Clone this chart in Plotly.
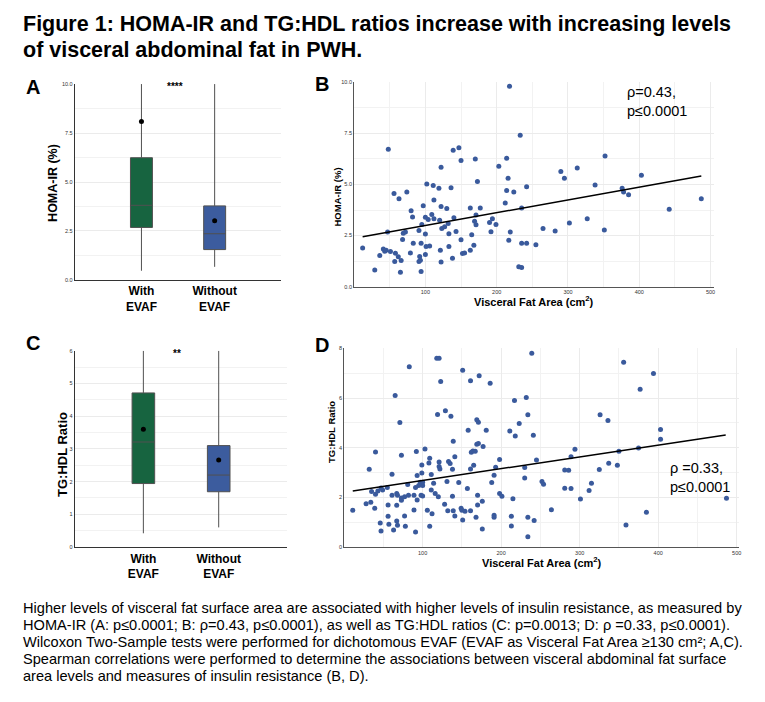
import plotly.graph_objects as go

# Panel A / C: box statistics per group
groups = ["With EVAF", "Without EVAF"]
group_labels = ["With<br>EVAF", "Without<br>EVAF"]
box_colors = ["#176440", "#3c5c9e"]

homa_q1 = [2.68, 1.55]
homa_median = [3.81, 2.36]
homa_q3 = [6.24, 3.78]
homa_lower = [0.47, 0.67]
homa_upper = [10.0, 10.0]
homa_mean = [8.09, 3.02]

tghdl_q1 = [1.94, 1.69]
tghdl_median = [3.21, 2.20]
tghdl_q3 = [4.71, 3.10]
tghdl_lower = [0.42, 0.60]
tghdl_upper = [6.0, 6.0]
tghdl_mean = [3.60, 2.66]

# Panel B: visceral fat area vs HOMA-IR
vfa_b = [12, 29, 36, 41, 43, 45, 51, 48, 47, 56, 58, 57, 62, 63, 66, 65, 68, 69, 72, 74,
         79, 80, 82, 83, 91, 91, 92, 93, 94, 94, 95, 97, 100, 100, 100, 101, 102, 104, 106, 109,
         111, 112, 112, 119, 120, 121, 122, 122, 122, 123, 127, 130, 132, 133, 133, 136, 138, 139, 140, 143,
         147, 150, 150, 152, 155, 163, 163, 165, 168, 169, 170, 171, 171, 173, 177, 190, 192, 194, 199, 203,
         212, 214, 214, 216, 217, 218, 219, 224, 231, 233, 235, 235, 235, 242, 242, 255, 265, 282, 290, 295,
         302, 313, 327, 338, 351, 352, 376, 378, 385, 403, 442, 487]
homa_b = [1.89, 0.81, 1.52, 1.84, 1.73, 1.78, 1.72, 6.72, 2.67, 4.56, 1.63, 1.23, 1.46, 4.30, 1.28, 0.70, 2.31, 2.61, 2.67, 4.63,
          1.65, 3.71, 3.41, 2.12, 2.75, 1.23, 1.47, 1.29, 2.12, 0.74, 3.04, 3.96, 2.57, 1.57, 3.40, 1.96, 5.02, 3.28, 1.99, 3.53,
          4.95, 4.24, 3.32, 4.81, 3.25, 1.78, 1.20, 5.84, 3.92, 2.85, 2.93, 3.82, 3.09, 1.96, 2.59, 4.84, 1.39, 6.68, 3.37, 2.70,
          6.80, 6.18, 2.30, 1.62, 1.65, 3.85, 1.78, 2.54, 2.02, 3.20, 6.25, 3.03, 3.50, 5.15, 3.85, 3.14, 2.69, 3.32, 3.04, 5.89,
          4.09, 6.28, 4.71, 5.31, 2.27, 9.81, 2.67, 4.63, 0.97, 7.41, 2.12, 0.94, 3.85, 2.12, 4.89, 2.05, 2.85, 2.72, 5.63, 5.31,
          3.12, 5.81, 3.32, 4.97, 2.77, 6.39, 4.82, 4.63, 4.50, 5.45, 3.79, 4.30]
fit_b_x = [12, 487]
fit_b_y = [2.44, 5.42]

# Panel D: visceral fat area vs TG:HDL ratio
vfa_d = [11, 28, 32, 34, 35, 39, 40, 40, 43, 46, 47, 47, 49, 55, 56, 56, 57, 61, 61, 63,
         65, 67, 67, 67, 68, 68, 71, 73, 73, 73, 77, 78, 77, 82, 81, 83, 89, 89, 91, 91,
         92, 93, 93, 95, 97, 98, 99, 99, 100, 100, 100, 103, 106, 108, 109, 109, 111, 111, 112, 114,
         116, 118, 119, 120, 121, 121, 121, 123, 122, 128, 129, 131, 132, 133, 135, 136, 138, 138, 139, 139,
         141, 141, 146, 149, 150, 151, 151, 154, 157, 158, 161, 161, 161, 162, 164, 165, 167, 168, 169, 169,
         170, 170, 171, 171, 172, 176, 176, 177, 181, 186, 188, 191, 191, 191, 193, 198, 198, 201, 211, 213,
         213, 215, 217, 218, 223, 230, 230, 232, 234, 234, 234, 239, 241, 242, 245, 252, 254, 264, 281, 281,
         286, 289, 289, 294, 301, 312, 315, 325, 326, 336, 337, 348, 350, 356, 359, 375, 377, 385, 394, 403,
         403, 487]
tghdl_d = [1.48, 1.74, 3.13, 1.80, 2.24, 1.56, 2.13, 3.83, 2.26, 0.97, 0.65, 2.38, 2.30, 2.40, 1.69, 1.24, 0.92, 2.93, 2.09, 0.69,
           6.10, 2.16, 1.68, 1.05, 0.88, 2.09, 5.01, 3.70, 1.97, 1.88, 2.02, 0.84, 1.25, 2.09, 2.52, 7.26, 2.09, 1.49, 0.61, 2.40,
           3.85, 1.89, 2.88, 2.48, 2.61, 2.08, 3.30, 2.98, 2.48, 2.05, 2.61, 3.95, 1.48, 3.38, 0.84, 3.57, 2.92, 2.30, 1.34, 2.57,
           2.16, 7.60, 5.34, 2.02, 3.42, 7.60, 3.24, 6.67, 3.14, 1.72, 5.49, 2.64, 1.46, 3.44, 3.36, 5.27, 3.13, 2.04, 4.26, 1.46,
           1.25, 3.64, 2.60, 1.56, 1.48, 1.09, 7.12, 1.44, 2.36, 4.70, 1.46, 6.70, 3.14, 3.82, 3.87, 3.29, 3.86, 1.20, 5.13, 4.14,
           2.08, 1.69, 5.02, 4.17, 6.90, 1.84, 0.73, 4.05, 4.70, 6.60, 2.60, 1.28, 1.20, 2.89, 3.21, 3.52, 2.16, 2.04, 4.67, 0.85,
           1.24, 1.94, 5.90, 4.47, 4.97, 2.78, 3.20, 6.02, 1.20, 5.33, 0.41, 7.80, 4.50, 1.07, 3.50, 2.64, 2.53, 1.50, 3.10, 2.37,
           3.09, 2.36, 3.64, 3.94, 1.93, 2.28, 2.57, 3.12, 5.33, 5.10, 3.37, 3.29, 3.86, 7.44, 0.89, 3.99, 6.35, 1.40, 6.99, 4.73,
           4.34, 1.96]
fit_d_x = [11, 486]
fit_d_y = [2.26, 4.51]

caption_lines = [
    "Higher levels of visceral fat surface area are associated with higher levels of insulin resistance, as measured by",
    "HOMA-IR (A: p≤0.0001; B: ρ=0.43, p≤0.0001), as well as TG:HDL ratios (C: p=0.0013; D: ρ =0.33, p≤0.0001).",
    "Wilcoxon Two-Sample tests were performed for dichotomous EVAF (EVAF as Visceral Fat Area ≥130 cm²; A,C).",
    "Spearman correlations were performed to determine the associations between visceral abdominal fat surface",
    "area levels and measures of insulin resistance (B, D).",
]

FONT = "Liberation Sans, Arial, sans-serif"
POINT_COLOR = "#3a5a9c"
GRID = "#ebebeb"
MINOR_GRID = "#f2f2f2"

# page body adds an 8px margin, so the figure is a bit smaller and shifted
OFF = 8
W = 765 - OFF
H = 702 - OFF


def fx(px):
    return (px - OFF) / W


def fy(py):
    return 1 - (py - OFF) / H


fig = go.Figure()


def add_boxes(xaxis, yaxis, q1, median, q3, lower, upper, mean):
    for i, g in enumerate(groups):
        fig.add_trace(go.Box(
            x=[g], q1=[q1[i]], median=[median[i]], q3=[q3[i]],
            lowerfence=[lower[i]], upperfence=[upper[i]],
            fillcolor=box_colors[i], line=dict(color="#505050", width=1),
            width=0.3, whiskerwidth=0, boxpoints=False,
            xaxis=xaxis, yaxis=yaxis, showlegend=False,
        ))
    # group means as black dots
    fig.add_trace(go.Scatter(
        x=groups, y=mean, mode="markers", marker=dict(color="black", size=5),
        xaxis=xaxis, yaxis=yaxis, showlegend=False,
    ))


def add_scatter(xaxis, yaxis, xs, ys, fit_x, fit_y):
    fig.add_trace(go.Scatter(
        x=xs, y=ys, mode="markers", marker=dict(color=POINT_COLOR, size=5),
        xaxis=xaxis, yaxis=yaxis, showlegend=False,
    ))
    fig.add_trace(go.Scatter(
        x=fit_x, y=fit_y, mode="lines", line=dict(color="black", width=1.5),
        xaxis=xaxis, yaxis=yaxis, showlegend=False,
    ))


add_boxes("x", "y", homa_q1, homa_median, homa_q3, homa_lower, homa_upper, homa_mean)
add_scatter("x2", "y2", vfa_b, homa_b, fit_b_x, fit_b_y)
add_boxes("x3", "y3", tghdl_q1, tghdl_median, tghdl_q3, tghdl_lower, tghdl_upper, tghdl_mean)
add_scatter("x4", "y4", vfa_d, tghdl_d, fit_d_x, fit_d_y)

tick_small = dict(family=FONT, size=5.5, color="#333")
cat_axis = dict(
    type="category", range=[-0.91, 1.91], showgrid=False, zeroline=False,
    showline=True, linecolor="#333", linewidth=1.2, ticks="",
    tickvals=groups, ticktext=group_labels,
    tickfont=dict(family=FONT, size=12, color="black", weight="bold"),
)
num_axis = dict(
    showline=True, linecolor="#555", linewidth=1, ticks="", zeroline=False,
    gridcolor=GRID, gridwidth=1, tickfont=tick_small,
)
vfa_ticks = [100, 200, 300, 400, 500]

fig.update_layout(
    width=W, height=H,
    margin=dict(l=0, r=0, t=0, b=0),
    paper_bgcolor="white", plot_bgcolor="white",
    font=dict(family=FONT, color="black"),
    showlegend=False,
    xaxis=dict(cat_axis, domain=[fx(75), fx(282)], anchor="y"),
    yaxis=dict(num_axis, domain=[fy(279.3), fy(81.7)], anchor="x", range=[0, 10], tick0=0, dtick=2.5,
               tickformat=".1f", linecolor="#333", linewidth=1.2,
               minor=dict(tick0=0, dtick=1.25, showgrid=True, gridcolor=MINOR_GRID)),
    xaxis2=dict(num_axis, domain=[fx(355), fx(716)], anchor="y2", range=[0, 505], tickvals=vfa_ticks,
                minor=dict(tick0=0, dtick=50, showgrid=True, gridcolor=MINOR_GRID)),
    yaxis2=dict(num_axis, domain=[fy(286), fy(80)], anchor="x2", range=[0, 10], tick0=0, dtick=2.5,
                tickformat=".1f", minor=dict(tick0=0, dtick=1.25, showgrid=True, gridcolor=MINOR_GRID)),
    xaxis3=dict(cat_axis, domain=[fx(75), fx(288)], anchor="y3"),
    yaxis3=dict(num_axis, domain=[fy(548.7), fy(350.7)], anchor="x3", range=[0, 6], tick0=0, dtick=1,
                linecolor="#333", linewidth=1.2,
                minor=dict(tick0=0, dtick=0.5, showgrid=True, gridcolor=MINOR_GRID)),
    xaxis4=dict(num_axis, domain=[fx(345), fx(741)], anchor="y4", range=[0, 503], tickvals=vfa_ticks,
                minor=dict(tick0=0, dtick=50, showgrid=True, gridcolor=MINOR_GRID)),
    yaxis4=dict(num_axis, domain=[fy(548.7), fy(348.3)], anchor="x4", range=[0, 8], tick0=0, dtick=2,
                minor=dict(tick0=0, dtick=1, showgrid=True, gridcolor=MINOR_GRID)),
)

bold = dict(family=FONT, color="black", weight="bold")
notes = [
    # figure title
    dict(x=fx(21), y=fy(21), text="Figure 1: HOMA-IR and TG:HDL ratios increase with increasing levels",
         xanchor="left", font=dict(bold, size=21.5)),
    dict(x=fx(21), y=fy(47), text="of visceral abdominal fat in PWH.",
         xanchor="left", font=dict(bold, size=21.5)),
    # panel letters
    dict(x=fx(33), y=fy(85), text="A", font=dict(bold, size=20)),
    dict(x=fx(323), y=fy(82), text="B", font=dict(bold, size=20)),
    dict(x=fx(33), y=fy(343), text="C", font=dict(bold, size=20)),
    dict(x=fx(323), y=fy(345), text="D", font=dict(bold, size=20)),
    # significance stars
    dict(x=fx(175), y=fy(84), text="****", font=dict(bold, size=10)),
    dict(x=fx(177), y=fy(353), text="**", font=dict(bold, size=10)),
    # axis titles
    dict(x=fx(53), y=fy(181.5), text="HOMA-IR (%)", textangle=-90, font=dict(bold, size=12.5)),
    dict(x=fx(62), y=fy(455), text="TG:HDL Ratio", textangle=-90, font=dict(bold, size=13)),
    dict(x=fx(338), y=fy(196), text="HOMA-IR (%)", textangle=-90, font=dict(bold, size=9.5)),
    dict(x=fx(333), y=fy(432.5), text="TG:HDL Ratio", textangle=-90, font=dict(bold, size=9.5)),
    dict(x=fx(535), y=fy(300.5), text="Visceral Fat Area (cm<sup>2</sup>)", font=dict(bold, size=11)),
    dict(x=fx(543), y=fy(564), text="Visceral Fat Area (cm<sup>2</sup>)", font=dict(bold, size=11)),
    # correlation labels
    dict(x=fx(627), y=fy(99.5), text="ρ=0.43,<br>p≤0.0001", xanchor="left", align="left",
         font=dict(family=FONT, size=14.5, color="black")),
    dict(x=fx(670), y=fy(479), text="ρ =0.33,<br>p≤0.0001", xanchor="left", align="left",
         font=dict(family=FONT, size=14.5, color="black")),
]

for i, line in enumerate(caption_lines):
    notes.append(dict(x=fx(21), y=fy(610 + 17.2 * i), text=line, xanchor="left",
                      font=dict(family=FONT, size=14.6, color="black")))

for n in notes:
    n.setdefault("xanchor", "center")
    fig.add_annotation(n, xref="paper", yref="paper", yanchor="middle", showarrow=False)

fig.write_html("out.html")
